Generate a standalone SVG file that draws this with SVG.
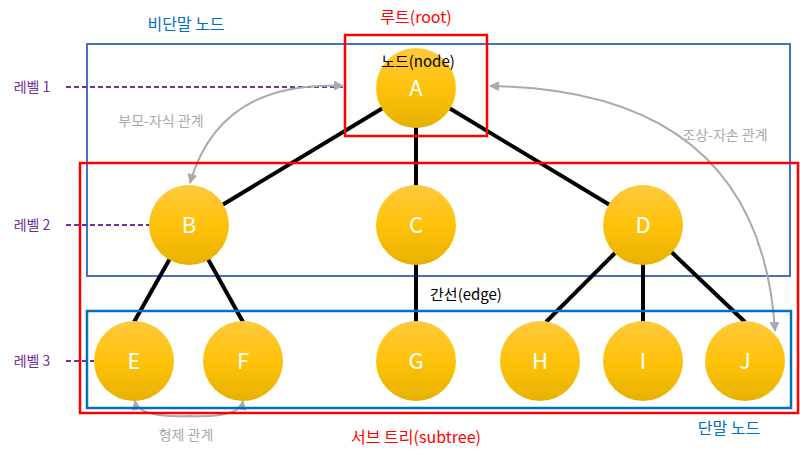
<svg xmlns="http://www.w3.org/2000/svg" width="800" height="458" viewBox="0 0 800 458">
<style>
text{font-family:"Noto Sans CJK KR","Noto Sans",sans-serif;}
.n circle{fill:url(#g)}
.n text{fill:#fff;font-size:22px;text-anchor:middle}
.e{stroke:#000;stroke-width:4}
.rel{fill:none;stroke:#aaa;stroke-width:2}
.lv{stroke:#7030a0;stroke-width:2;stroke-dasharray:5,3}
</style>
<defs>
<linearGradient id="g" x1="0" y1="0" x2="0" y2="1"><stop offset="0" stop-color="#ffc93c"/><stop offset="0.5" stop-color="#ffc20a"/><stop offset="1" stop-color="#e6b200"/></linearGradient>
<marker id="ah" viewBox="0 0 10 10" refX="9" refY="5" markerWidth="5" markerHeight="5" orient="auto-start-reverse"><path d="M0,0L10,5L0,10z" fill="#aaa"/></marker>
</defs>
<rect x="87" y="44" width="703" height="232" fill="none" stroke="#4472c4" stroke-width="2"/>
<g id="connectors">
<line class="e" x1="416" y1="88" x2="189" y2="225"/>
<line class="e" x1="416" y1="88" x2="416" y2="225"/>
<line class="e" x1="416" y1="88" x2="643" y2="225"/>
<line class="e" x1="189" y1="225" x2="134" y2="322"/>
<line class="e" x1="189" y1="225" x2="243" y2="322"/>
<line class="e" x1="416" y1="225" x2="416" y2="322"/>
<line class="e" x1="643" y1="225" x2="546" y2="322"/>
<line class="e" x1="643" y1="225" x2="643" y2="322"/>
<line class="e" x1="643" y1="225" x2="745" y2="322"/>
<line class="lv" x1="66" y1="87" x2="345" y2="87"/>
<line class="lv" x1="66" y1="225" x2="150" y2="225"/>
<line class="lv" x1="66" y1="361" x2="94" y2="361"/>
<path class="rel" d="M343,86 Q220,80 190,183" marker-start="url(#ah)" marker-end="url(#ah)"/>
<path class="rel" d="M490,86 Q760,90 775,331" marker-start="url(#ah)" marker-end="url(#ah)"/>
<path class="rel" d="M135,401 Q138,418 190,416 Q240,418 243,401" marker-start="url(#ah)" marker-end="url(#ah)"/>
</g>
<rect x="345" y="35" width="142" height="101" fill="none" stroke="#f00" stroke-width="2.5"/>
<rect x="80" y="163" width="718" height="250" fill="none" stroke="#f00" stroke-width="2.5"/>
<rect x="87" y="311" width="704" height="97" fill="none" stroke="#0070c0" stroke-width="2.5"/>
<g id="A" class="n"><circle cx="416" cy="88" r="40"/><text x="416" y="96">A</text></g>
<g id="B" class="n"><circle cx="189" cy="225" r="40"/><text x="189" y="233">B</text></g>
<g id="C" class="n"><circle cx="416" cy="225" r="40"/><text x="416" y="233">C</text></g>
<g id="D" class="n"><circle cx="643" cy="225" r="40"/><text x="643" y="233">D</text></g>
<g id="E" class="n"><circle cx="134" cy="361" r="40"/><text x="134" y="369">E</text></g>
<g id="F" class="n"><circle cx="243" cy="361" r="40"/><text x="243" y="369">F</text></g>
<g id="G" class="n"><circle cx="416" cy="361" r="40"/><text x="416" y="369">G</text></g>
<g id="H" class="n"><circle cx="540" cy="361" r="40"/><text x="540" y="369">H</text></g>
<g id="I" class="n"><circle cx="643" cy="361" r="40"/><text x="643" y="369">I</text></g>
<g id="J" class="n"><circle cx="745" cy="361" r="40"/><text x="745" y="369">J</text></g>
<text x="418" y="67" font-size="15" text-anchor="middle" fill="#000">노드(node)</text>
<text x="416" y="23" font-size="16" text-anchor="middle" fill="#f00">루트(root)</text>
<text x="186" y="30" font-size="16" text-anchor="middle" fill="#0070c0">비단말 노드</text>
<text x="161" y="126" font-size="14" text-anchor="middle" fill="#aaa">부모-자식 관계</text>
<text x="725" y="140" font-size="14" text-anchor="middle" fill="#aaa">조상-자손 관계</text>
<text x="466" y="300" font-size="15" text-anchor="middle" fill="#000">간선(edge)</text>
<text x="32" y="92" font-size="14" text-anchor="middle" fill="#7030a0">레벨 1</text>
<text x="32" y="230" font-size="14" text-anchor="middle" fill="#7030a0">레벨 2</text>
<text x="32" y="366" font-size="14" text-anchor="middle" fill="#7030a0">레벨 3</text>
<text x="186" y="440" font-size="14" text-anchor="middle" fill="#aaa">형제 관계</text>
<text x="416" y="443" font-size="16" text-anchor="middle" fill="#f00">서브 트리(subtree)</text>
<text x="729" y="434" font-size="16" text-anchor="middle" fill="#0070c0">단말 노드</text>
</svg>
